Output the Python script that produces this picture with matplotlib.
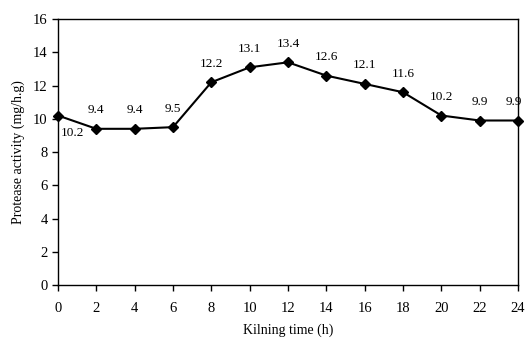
import matplotlib
matplotlib.use("Agg")
import matplotlib.pyplot as plt

time_h = [0, 2, 4, 6, 8, 10, 12, 14, 16, 18, 20, 22, 24]
activity = [10.2, 9.4, 9.4, 9.5, 12.2, 13.1, 13.4, 12.6, 12.1, 11.6, 10.2, 9.9, 9.9]
labels = ["10.2", "9.4", "9.4", "9.5", "12.2", "13.1", "13.4", "12.6", "12.1", "11.6", "10.2", "9.9", "9.9"]

plt.rcParams['font.family'] = ['Liberation Serif', 'DejaVu Serif']

fig = plt.figure(figsize=(5.27, 3.41), dpi=100)
ax = fig.add_axes([0.110, 0.164, 0.873, 0.780])
ax.plot(time_h, activity, color='black', lw=1.5, marker='D', ms=5, clip_on=False, zorder=3)

for i, (x, y, t) in enumerate(zip(time_h, activity, labels)):
    if i == 0:
        ax.annotate(t, (x, y), xytext=(2, -8), textcoords='offset points', ha='left', va='top', fontsize=9.5)
    elif i == len(time_h) - 1:
        ax.annotate(t, (x, y), xytext=(-3, 9), textcoords='offset points', ha='center', va='bottom', fontsize=9.5)
    else:
        ax.annotate(t, (x, y), xytext=(0, 9), textcoords='offset points', ha='center', va='bottom', fontsize=9.5)

ax.set_xlim(0, 24)
ax.set_ylim(0, 16)
ax.set_xticks(range(0, 25, 2))
ax.set_yticks(range(0, 17, 2))
ax.tick_params(direction='out', length=4, width=1, labelsize=10.5, colors='black')
ax.tick_params(axis='x', pad=8)
for s in ax.spines.values():
    s.set_linewidth(1.0)
ax.set_xlabel("Kilning time (h)", fontsize=10, labelpad=6)
ax.set_ylabel("Protease activity (mg/h.g)", fontsize=10, labelpad=6)

fig.savefig("out.png", dpi=100)
